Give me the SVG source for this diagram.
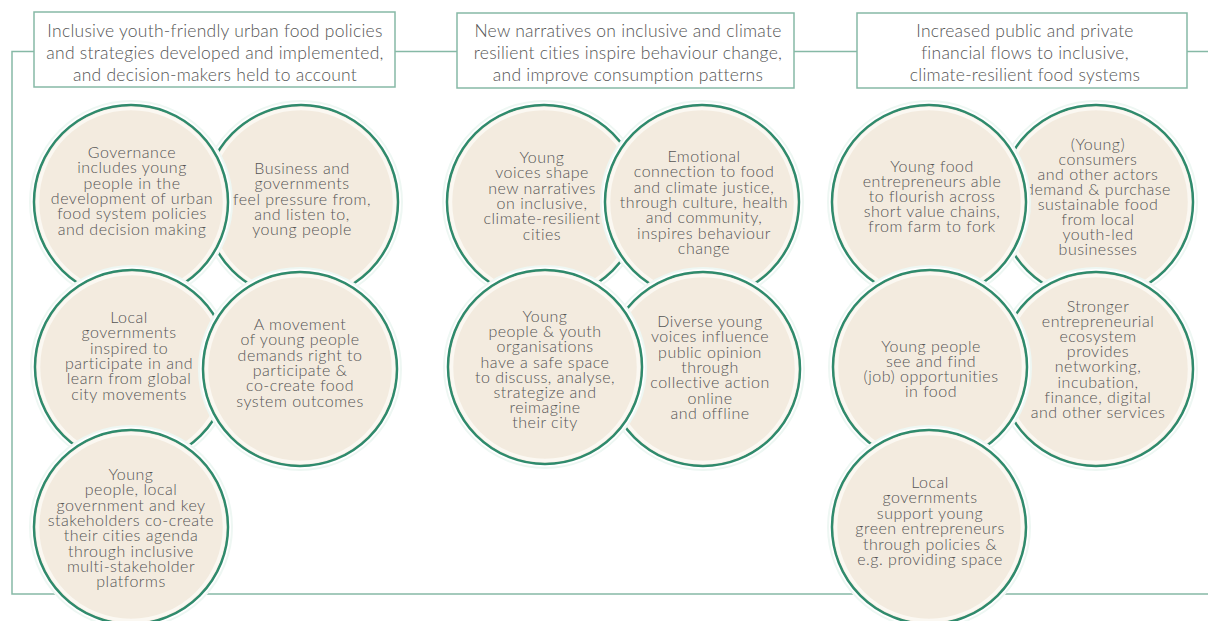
<svg xmlns="http://www.w3.org/2000/svg" width="1208" height="621" viewBox="0 0 1208 621">
<style>
.bg{fill:#ffffff}
.frame{fill:none;stroke:#86b9a6;stroke-width:1.5}
.hbox{fill:#ffffff;stroke:#86b9a6;stroke-width:1.5}
.htxt{font-family:Lato,"Open Sans","Liberation Sans",sans-serif;font-weight:300;font-size:17.5px;letter-spacing:0.25px;fill:#555555;text-anchor:middle}
.halo{fill:#ffffff;stroke:#eef7f3;stroke-width:2}
.disc{fill:#f3ebdf;stroke:#2f8a6c;stroke-width:2.5}
.inner{fill:none;stroke:#fbf8f2;stroke-width:3.5}
.ctxt{font-family:Lato,"Open Sans","Liberation Sans",sans-serif;font-weight:300;font-size:16px;letter-spacing:0.5px;fill:#555555;text-anchor:middle}
</style>
<rect class="bg" x="0" y="0" width="1208" height="621"/>
<g id="connectors">
<path class="frame" d="M34,51.5 H12 V594 H1208"/>
<path class="frame" d="M395,51.5 H457"/>
<path class="frame" d="M794,51.5 H857"/>
<path class="frame" d="M1187,51.5 H1208"/>
</g>
<g id="header1">
<rect class="hbox" x="34" y="12" width="361" height="75"/>
<text class="htxt"><tspan x="215" y="37">Inclusive youth-friendly urban food policies</tspan><tspan x="215" y="59">and strategies developed and implemented,</tspan><tspan x="215" y="81">and decision-makers held to account</tspan></text>
</g>
<g id="header2">
<rect class="hbox" x="457" y="13" width="337" height="75"/>
<text class="htxt"><tspan x="628" y="37">New narratives on inclusive and climate</tspan><tspan x="628" y="59">resilient cities inspire behaviour change,</tspan><tspan x="628" y="81">and improve consumption patterns</tspan></text>
</g>
<g id="header3">
<rect class="hbox" x="857" y="13" width="330" height="75"/>
<text class="htxt"><tspan x="1025" y="37">Increased public and private</tspan><tspan x="1025" y="59">financial flows to inclusive,</tspan><tspan x="1025" y="81">climate-resilient food systems</tspan></text>
</g>

<g id="c2">
<circle class="halo" cx="301" cy="202" r="101"/><circle class="disc" cx="301" cy="202" r="97"/><circle class="inner" cx="301" cy="202" r="93.5"/>
<text class="ctxt"><tspan x="302" y="174">Business and</tspan><tspan x="302" dy="15.3">governments</tspan><tspan x="302" dy="15.3">feel pressure from,</tspan><tspan x="302" dy="15.3">and listen to,</tspan><tspan x="302" dy="15.3">young people</tspan></text>
</g>
<g id="c1">
<circle class="halo" cx="131" cy="202" r="101"/><circle class="disc" cx="131" cy="202" r="97"/><circle class="inner" cx="131" cy="202" r="93.5"/>
<text class="ctxt"><tspan x="132" y="158">Governance</tspan><tspan x="132" dy="15.3">includes young</tspan><tspan x="132" dy="15.3">people in the</tspan><tspan x="132" dy="15.3">development of urban</tspan><tspan x="132" dy="15.3">food system policies</tspan><tspan x="132" dy="15.3">and decision making</tspan></text>
</g>
<g id="c3">
<circle class="halo" cx="132" cy="367" r="101"/><circle class="disc" cx="132" cy="367" r="97"/><circle class="inner" cx="132" cy="367" r="93.5"/>
<text class="ctxt"><tspan x="129" y="323">Local</tspan><tspan x="129" dy="15.3">governments</tspan><tspan x="129" dy="15.3">inspired to</tspan><tspan x="129" dy="15.3">participate in and</tspan><tspan x="129" dy="15.3">learn from global</tspan><tspan x="129" dy="15.3">city movements</tspan></text>
</g>
<g id="c4">
<circle class="halo" cx="300" cy="369" r="101"/><circle class="disc" cx="300" cy="369" r="97"/><circle class="inner" cx="300" cy="369" r="93.5"/>
<text class="ctxt"><tspan x="300" y="330">A movement</tspan><tspan x="300" dy="15.3">of young people</tspan><tspan x="300" dy="15.3">demands right to</tspan><tspan x="300" dy="15.3">participate &amp;</tspan><tspan x="300" dy="15.3">co-create food</tspan><tspan x="300" dy="15.3">system outcomes</tspan></text>
</g>
<g id="c5">
<circle class="halo" cx="131" cy="527" r="101"/><circle class="disc" cx="131" cy="527" r="97"/><circle class="inner" cx="131" cy="527" r="93.5"/>
<text class="ctxt"><tspan x="131" y="480">Young</tspan><tspan x="131" dy="15.3">people, local</tspan><tspan x="131" dy="15.3">government and key</tspan><tspan x="131" dy="15.3">stakeholders co-create</tspan><tspan x="131" dy="15.3">their cities agenda</tspan><tspan x="131" dy="15.3">through inclusive</tspan><tspan x="131" dy="15.3">multi-stakeholder</tspan><tspan x="131" dy="15.3">platforms</tspan></text>
</g>

<g id="c6">
<circle class="halo" cx="544" cy="202" r="101"/><circle class="disc" cx="544" cy="202" r="97"/><circle class="inner" cx="544" cy="202" r="93.5"/>
<text class="ctxt"><tspan x="542" y="163">Young</tspan><tspan x="542" dy="15.3">voices shape</tspan><tspan x="542" dy="15.3">new narratives</tspan><tspan x="542" dy="15.3">on inclusive,</tspan><tspan x="542" dy="15.3">climate-resilient</tspan><tspan x="542" dy="15.3">cities</tspan></text>
</g>
<g id="c7">
<circle class="halo" cx="702" cy="202" r="101"/><circle class="disc" cx="702" cy="202" r="97"/><circle class="inner" cx="702" cy="202" r="93.5"/>
<text class="ctxt"><tspan x="704" y="162">Emotional</tspan><tspan x="704" dy="15.3">connection to food</tspan><tspan x="704" dy="15.3">and climate justice,</tspan><tspan x="704" dy="15.3">through culture, health</tspan><tspan x="704" dy="15.3">and community,</tspan><tspan x="704" dy="15.3">inspires behaviour</tspan><tspan x="704" dy="15.3">change</tspan></text>
</g>
<g id="c9">
<circle class="halo" cx="703" cy="369" r="101"/><circle class="disc" cx="703" cy="369" r="97"/><circle class="inner" cx="703" cy="369" r="93.5"/>
<text class="ctxt"><tspan x="710" y="327">Diverse young</tspan><tspan x="710" dy="15.3">voices influence</tspan><tspan x="710" dy="15.3">public opinion</tspan><tspan x="710" dy="15.3">through</tspan><tspan x="710" dy="15.3">collective action</tspan><tspan x="710" dy="15.3">online</tspan><tspan x="710" dy="15.3">and offline</tspan></text>
</g>
<g id="c8">
<circle class="halo" cx="545" cy="367" r="101"/><circle class="disc" cx="545" cy="367" r="97"/><circle class="inner" cx="545" cy="367" r="93.5"/>
<text class="ctxt"><tspan x="545" y="322">Young</tspan><tspan x="545" dy="15.2">people &amp; youth</tspan><tspan x="545" dy="15.2">organisations</tspan><tspan x="545" dy="15.2">have a safe space</tspan><tspan x="545" dy="15.2">to discuss, analyse,</tspan><tspan x="545" dy="15.2">strategize and</tspan><tspan x="545" dy="15.2">reimagine</tspan><tspan x="545" dy="15.2">their city</tspan></text>
</g>

<g id="c11">
<circle class="halo" cx="1096" cy="202" r="101"/><circle class="disc" cx="1096" cy="202" r="97"/><circle class="inner" cx="1096" cy="202" r="93.5"/>
<text class="ctxt"><tspan x="1098" y="150">(Young)</tspan><tspan x="1098" dy="15">consumers</tspan><tspan x="1098" dy="15">and other actors</tspan><tspan x="1098" dy="15">demand &amp; purchase</tspan><tspan x="1098" dy="15">sustainable food</tspan><tspan x="1098" dy="15">from local</tspan><tspan x="1098" dy="15">youth-led</tspan><tspan x="1098" dy="15">businesses</tspan></text>
</g>
<g id="c10">
<circle class="halo" cx="929" cy="202" r="101"/><circle class="disc" cx="929" cy="202" r="97"/><circle class="inner" cx="929" cy="202" r="93.5"/>
<text class="ctxt"><tspan x="932" y="172">Young food</tspan><tspan x="932" dy="15">entrepreneurs able</tspan><tspan x="932" dy="15">to flourish across</tspan><tspan x="932" dy="15">short value chains,</tspan><tspan x="932" dy="15">from farm to fork</tspan></text>
</g>
<g id="c13">
<circle class="halo" cx="1096" cy="369" r="101"/><circle class="disc" cx="1096" cy="369" r="97"/><circle class="inner" cx="1096" cy="369" r="93.5"/>
<text class="ctxt"><tspan x="1098" y="312">Stronger</tspan><tspan x="1098" dy="15.1">entrepreneurial</tspan><tspan x="1098" dy="15.1">ecosystem</tspan><tspan x="1098" dy="15.1">provides</tspan><tspan x="1098" dy="15.1">networking,</tspan><tspan x="1098" dy="15.1">incubation,</tspan><tspan x="1098" dy="15.1">finance, digital</tspan><tspan x="1098" dy="15.1">and other services</tspan></text>
</g>
<g id="c12">
<circle class="halo" cx="930" cy="367" r="101"/><circle class="disc" cx="930" cy="367" r="97"/><circle class="inner" cx="930" cy="367" r="93.5"/>
<text class="ctxt"><tspan x="931" y="352">Young people</tspan><tspan x="931" dy="15">see and find</tspan><tspan x="931" dy="15">(job) opportunities</tspan><tspan x="931" dy="15">in food</tspan></text>
</g>
<g id="c14">
<circle class="halo" cx="929" cy="527" r="101"/><circle class="disc" cx="929" cy="527" r="97"/><circle class="inner" cx="929" cy="527" r="93.5"/>
<text class="ctxt"><tspan x="930" y="488">Local</tspan><tspan x="930" dy="15.4">governments</tspan><tspan x="930" dy="15.4">support young</tspan><tspan x="930" dy="15.4">green entrepreneurs</tspan><tspan x="930" dy="15.4">through policies &amp;</tspan><tspan x="930" dy="15.4">e.g. providing space</tspan></text>
</g>
</svg>
